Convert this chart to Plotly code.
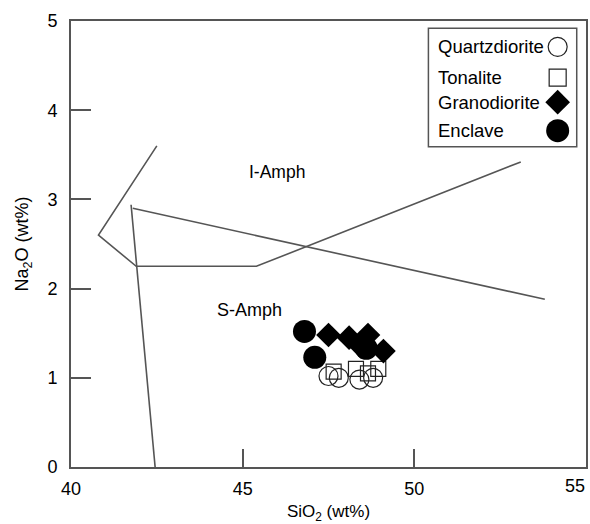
import plotly.graph_objects as go

# --- data ---
line1_x = [42.5, 40.8, 41.9, 45.4, 53.1]
line1_y = [3.6, 2.6, 2.25, 2.25, 3.42]
line2_x = [41.75, 42.45]
line2_y = [2.94, 0.0]
line3_x = [41.8, 53.8]
line3_y = [2.9, 1.88]

qd_x = [47.5, 47.8, 48.4, 48.8]
qd_y = [1.02, 1.0, 0.98, 1.0]
ton_x = [47.65, 48.3, 48.65, 48.95]
ton_y = [1.07, 1.1, 1.05, 1.1]
gd_x = [47.5, 48.1, 48.65, 48.45, 49.1]
gd_y = [1.48, 1.45, 1.48, 1.35, 1.30]
enc_x = [46.8, 47.1, 48.6]
enc_y = [1.52, 1.23, 1.33]

x_ticks = [40, 45, 50, 55]
x_ticktext = ["40", "45", "50", "55"]
y_ticks = [0, 1, 2, 3, 4, 5]
legend_names = ["Quartzdiorite", "Tonalite", "Granodiorite", "Enclave"]

LC = "#555555"
FONT = "Liberation Sans, Arial, sans-serif"

fig = go.Figure()
for lx, ly in [(line1_x, line1_y), (line2_x, line2_y), (line3_x, line3_y)]:
    fig.add_trace(go.Scatter(x=lx, y=ly, mode="lines",
                             line=dict(color=LC, width=1.6), showlegend=False,
                             hoverinfo="skip"))

styles = [
    dict(symbol="circle-open", size=19, color="#222222", line=dict(width=1.2, color="#222222")),
    dict(symbol="square-open", size=15, color="#222222", line=dict(width=1.2, color="#222222")),
    dict(symbol="diamond", size=19, color="#000000", line=dict(width=0, color="#000000")),
    dict(symbol="circle", size=23, color="#000000", line=dict(width=0, color="#000000")),
]
for name, xs, ys, st in zip(legend_names, [qd_x, ton_x, gd_x, enc_x],
                            [qd_y, ton_y, gd_y, enc_y], styles):
    fig.add_trace(go.Scatter(x=xs, y=ys, mode="markers", name=name,
                             marker=st, showlegend=False))

# custom legend (symbols to the right of text), on helper overlay axes
leg_y = [0.942, 0.873, 0.818, 0.754]
leg_sym_x = 0.945
leg_sizes = [19, 17, 19, 23]
for st, yy, sz in zip(styles, leg_y, leg_sizes):
    m = dict(st)
    m["size"] = sz
    fig.add_trace(go.Scatter(x=[leg_sym_x], y=[yy], mode="markers", xaxis="x2", yaxis="y2",
                             showlegend=False, hoverinfo="skip", marker=m))
for name, yy in zip(legend_names, leg_y):
    fig.add_annotation(x=0.709, y=yy, xref="paper", yref="paper", text=name,
                       showarrow=False, xanchor="left", yanchor="middle",
                       font=dict(size=18.5, color="black", family=FONT))
fig.add_shape(type="rect", xref="paper", yref="paper", x0=0.694, x1=0.982,
              y0=0.718, y1=0.984, line=dict(color=LC, width=1.5), fillcolor="white",
              layer="below")

fig.add_annotation(x=46.0, y=3.31, text="I-Amph", showarrow=False,
                   font=dict(size=17.5, color="black", family=FONT))
fig.add_annotation(x=45.2, y=1.76, text="S-Amph", showarrow=False,
                   font=dict(size=18, color="black", family=FONT))

# last x tick label is pulled inside the figure edge, as in the reference
fig.add_annotation(x=x_ticks[-1], y=0, text=x_ticktext[-1], showarrow=False,
                   xanchor="center", yanchor="top", xshift=-11, yshift=-7,
                   font=dict(size=18, color="black", family=FONT))

fig.update_layout(
    width=590, height=524,
    margin=dict(l=71, r=2, t=21, b=57),
    paper_bgcolor="white", plot_bgcolor="white",
    font=dict(family=FONT, size=18, color="black"),
    xaxis=dict(range=[40, 55], tickvals=x_ticks[:-1], ticktext=x_ticktext[:-1],
               ticks="inside", ticklen=18,
               tickcolor=LC, tickwidth=1.5, showline=True, linecolor=LC, linewidth=2,
               mirror=True, showgrid=False, zeroline=False, ticklabelstandoff=4,
               title=dict(text="SiO<sub>2</sub> (wt%)", standoff=10,
                          font=dict(size=17))),
    yaxis=dict(range=[0, 5], tickvals=y_ticks, ticks="inside", ticklen=20,
               tickcolor=LC, tickwidth=1.5, showline=True, linecolor=LC, linewidth=2,
               mirror=True, showgrid=False, zeroline=False, ticklabelstandoff=8,
               title=dict(text="Na<sub>2</sub>O (wt%)", standoff=14,
                          font=dict(size=18))),
    xaxis2=dict(range=[0, 1], overlaying="x", visible=False, fixedrange=True),
    yaxis2=dict(range=[0, 1], overlaying="y", visible=False, fixedrange=True),
)

fig.write_html("out.html")
